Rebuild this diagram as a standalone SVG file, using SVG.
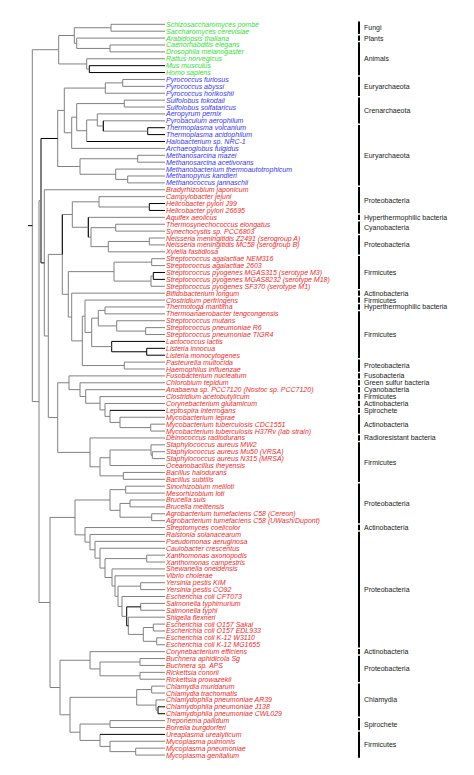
<svg xmlns="http://www.w3.org/2000/svg" width="474" height="775" viewBox="0 0 474 775">
<style>
.g{fill:none;stroke:#808080;stroke-width:1}
.k{fill:none;stroke:#000;stroke-width:1}
text{font-family:"Liberation Sans",Arial,sans-serif;font-size:7px}
.t{font-style:italic}
.eu{fill:#33e033}.ar{fill:#3535ee}.ba{fill:#f02a2a}
.c{fill:#1a1a1a}
.bar{stroke:#000;stroke-width:2}
</style>
<rect width="474" height="775" fill="#fff"/>
<g id="connectors">
<path class="g" d="M165 24.3H111V31.19H165"/>
<path class="g" d="M165 44.98H110V51.88H165"/>
<path class="g" d="M165 38.09H76.7V48.43H110"/>
<path class="g" d="M111 27.75H74.3V43.26H76.7"/>
<path class="k" d="M165 65.66H89.3V72.56H165"/>
<path class="g" d="M165 58.77H86.7V69.11H89.3"/>
<path class="g" d="M74.3 35.5H58.7V63.94H86.7"/>
<path class="g" d="M165 79.45H122.7V86.35H165"/>
<path class="g" d="M122.7 82.9H105.3V93.24H165"/>
<path class="g" d="M165 100.13H124.3V107.03H165"/>
<path class="k" d="M165 127.71H147.7V134.6H165"/>
<path class="g" d="M165 120.82H103.3V131.16H147.7"/>
<path class="k" d="M103.3 120.82V131.16"/>
<path class="g" d="M165 113.92H97.3V125.99H103.3"/>
<path class="g" d="M97.3 119.96H86.7V141.5"/>
<path class="k" d="M86.7 141.5H165"/>
<path class="g" d="M124.3 103.58H76.7V130.73H86.7"/>
<path class="g" d="M76.7 117.16H71.7V148.39H165"/>
<path class="g" d="M105.3 88.07H64.3V132.78H71.7"/>
<path class="g" d="M165 155.29H137.7V162.18H165"/>
<path class="g" d="M165 175.97H127.7V182.86H165"/>
<path class="g" d="M165 169.07H115.7V179.42H127.7"/>
<path class="g" d="M137.7 158.74H80V174.25H115.7"/>
<path class="g" d="M64.3 110.43H57.7V166.5H80"/>
<path class="k" d="M165 203.54H149.3V210.44H165"/>
<path class="g" d="M165 196.65H99V206.99H149.3"/>
<path class="g" d="M165 224.23H115.7V231.12H165"/>
<path class="g" d="M165 238.01H149.3V244.91H165"/>
<path class="g" d="M149.3 241.46H108.3V251.8H165"/>
<path class="g" d="M115.7 227.68H91V246.63H108.3"/>
<path class="g" d="M165 217.33H88.3V237.16H91"/>
<path class="k" d="M88.3 217.33V237.16"/>
<path class="g" d="M99 201.82H72.3V227.25H88.3"/>
<path class="g" d="M165 258.7H151.7V265.59H165"/>
<path class="k" d="M165 272.48H153.3V279.38H165"/>
<path class="g" d="M153.3 275.93H151V286.27H165"/>
<path class="g" d="M151.7 262.15H114V281.1H151"/>
<path class="g" d="M165 306.95H105V313.85H165"/>
<path class="g" d="M165 327.64H145.7V334.53H165"/>
<path class="g" d="M165 320.74H116.7V331.08H145.7"/>
<path class="g" d="M105 310.4H98.3V325.91H116.7"/>
<path class="k" d="M165 348.32H146.7V355.21H165"/>
<path class="k" d="M165 341.42H111.7V351.77H146.7"/>
<path class="g" d="M98.3 318.16H91.7V346.6H111.7"/>
<path class="g" d="M165 300.06H85V332.38H91.7"/>
<path class="g" d="M165 362.11H124.3V369H165"/>
<path class="g" d="M85 316.22H82.3V365.56H124.3"/>
<path class="g" d="M165 293.17H71.7V340.89H82.3"/>
<path class="g" d="M114 271.63H68.3V317.03H71.7"/>
<path class="g" d="M72.3 214.5H62.3V294.33H68.3"/>
<path class="k" d="M62.3 214.5V254.4"/>
<path class="g" d="M165 424.15H150.7V431.05H165"/>
<path class="g" d="M165 417.26H120V427.6H150.7"/>
<path class="g" d="M110 410.36V422.43H120"/>
<path class="k" d="M110 410.36H165"/>
<path class="g" d="M165 403.47H105V416.4H110"/>
<path class="g" d="M165 396.58H100V409.93H105"/>
<path class="g" d="M165 389.68H85.7V403.25H100"/>
<path class="g" d="M165 382.79H80V396.47H85.7"/>
<path class="g" d="M165 375.89H69V389.63H80"/>
<path class="g" d="M165 451.73H152.3V458.62H165"/>
<path class="g" d="M165 444.83H151V455.18H152.3"/>
<path class="g" d="M165 472.41H123.3V479.3H165"/>
<path class="g" d="M151 450H110V465.52H165"/>
<path class="g" d="M110 457.76H100V475.86H123.3"/>
<path class="g" d="M165 437.94H90V466.81H100"/>
<path class="g" d="M69 382.76H57.7V452.38H90"/>
<path class="g" d="M62.3 254.4H48.3V417.57H57.7"/>
<path class="g" d="M165 189.76H44.3V335.99H48.3"/>
<path class="k" d="M57.7 138.47H41V262.87H44.3"/>
<path class="g" d="M165 486.2H125.7V493.09H165"/>
<path class="g" d="M165 499.99H130V506.88H165"/>
<path class="g" d="M165 513.77H151.7V520.67H165"/>
<path class="g" d="M130 503.43H120V517.22H151.7"/>
<path class="g" d="M125.7 489.65H110V510.33H120"/>
<path class="g" d="M165 555.14H146.7V562.03H165"/>
<path class="g" d="M165 582.71H140.7V589.61H165"/>
<path class="g" d="M165 603.4H140.7V610.29H165"/>
<path class="g" d="M165 624.08H153.3V630.97H165"/>
<path class="g" d="M165 637.87H156.7V644.76H165"/>
<path class="g" d="M153.3 627.53H143.3V641.32H156.7"/>
<path class="g" d="M165 617.18H128.3V634.42H143.3"/>
<path class="k" d="M140.7 606.85H126.7V625.8H128.3"/>
<path class="g" d="M165 596.5H122V616.33H126.7"/>
<path class="g" d="M140.7 586.16H118V606.42H122"/>
<path class="g" d="M165 575.82H115V596.29H118"/>
<path class="g" d="M165 568.93H112V586.06H115"/>
<path class="g" d="M146.7 558.59H105V577.5H112"/>
<path class="g" d="M165 548.24H100V568.05H105"/>
<path class="g" d="M165 541.35H95V558.15H100"/>
<path class="g" d="M165 534.46H90V549.75H95"/>
<path class="g" d="M165 527.56H85V542.1H90"/>
<path class="g" d="M110 499.99H75V534.83H85"/>
<path class="g" d="M165 658.55H140V665.44H165"/>
<path class="g" d="M165 672.34H140V679.23H165"/>
<path class="g" d="M140 662H100V675.79H140"/>
<path class="g" d="M165 651.65H90V668.9H100"/>
<path class="g" d="M165 686.12H151.7V693.02H165"/>
<path class="k" d="M165 706.81H158V713.7H165"/>
<path class="g" d="M165 699.91H156V710.26H158"/>
<path class="g" d="M151.7 689.57H136.7V705.08H156"/>
<path class="g" d="M165 720.59H110V727.49H165"/>
<path class="g" d="M165 748.17H135.7V755.07H165"/>
<path class="g" d="M165 741.28H110V751.62H135.7"/>
<path class="g" d="M100 734.38V746.45H110"/>
<path class="k" d="M100 734.38H165"/>
<path class="g" d="M110 724.04H80V740.42H100"/>
<path class="g" d="M136.7 697.33H70V732.23H80"/>
<path class="g" d="M90 660.28H60V714.78H70"/>
<path class="g" d="M75 517.41H50V687.53H60"/>
<path class="g" d="M41 200.67H39V602.47H50"/>
<path class="g" d="M58.7 49.72H32.3V401.57H39"/>
<path class="k" d="M28 225.65H32.3"/>
</g>
<g id="leaves" class="t">
<g id="leaf-1"><text class="eu" x="166" y="26.8">Schizosaccharomyces pombe</text></g>
<g id="leaf-2"><text class="eu" x="166" y="33.69">Saccharomyces cerevisiae</text></g>
<g id="leaf-3"><text class="eu" x="166" y="40.59">Arabidopsis thaliana</text></g>
<g id="leaf-4"><text class="eu" x="166" y="47.48">Caenorhabditis elegans</text></g>
<g id="leaf-5"><text class="eu" x="166" y="54.38">Drosophila melanogaster</text></g>
<g id="leaf-6"><text class="eu" x="166" y="61.27">Rattus norvegicus</text></g>
<g id="leaf-7"><text class="eu" x="166" y="68.16">Mus musculus</text></g>
<g id="leaf-8"><text class="eu" x="166" y="75.06">Homo sapiens</text></g>
<g id="leaf-9"><text class="ar" x="166" y="81.95">Pyrococcus furiosus</text></g>
<g id="leaf-10"><text class="ar" x="166" y="88.85">Pyrococcus abyssi</text></g>
<g id="leaf-11"><text class="ar" x="166" y="95.74">Pyrococcus horikoshii</text></g>
<g id="leaf-12"><text class="ar" x="166" y="102.63">Sulfolobus tokodaii</text></g>
<g id="leaf-13"><text class="ar" x="166" y="109.53">Sulfolobus solfataricus</text></g>
<g id="leaf-14"><text class="ar" x="166" y="116.42">Aeropyrum pernix</text></g>
<g id="leaf-15"><text class="ar" x="166" y="123.32">Pyrobaculum aerophilum</text></g>
<g id="leaf-16"><text class="ar" x="166" y="130.21">Thermoplasma volcanium</text></g>
<g id="leaf-17"><text class="ar" x="166" y="137.1">Thermoplasma acidophilum</text></g>
<g id="leaf-18"><text class="ar" x="166" y="144">Halobacterium sp. NRC-1</text></g>
<g id="leaf-19"><text class="ar" x="166" y="150.89">Archaeoglobus fulgidus</text></g>
<g id="leaf-20"><text class="ar" x="166" y="157.79">Methanosarcina mazei</text></g>
<g id="leaf-21"><text class="ar" x="166" y="164.68">Methanosarcina acetivorans</text></g>
<g id="leaf-22"><text class="ar" x="166" y="171.57">Methanobacterium thermoautotrophicum</text></g>
<g id="leaf-23"><text class="ar" x="166" y="178.47">Methanopyrus kandleri</text></g>
<g id="leaf-24"><text class="ar" x="166" y="185.36">Methanococcus jannaschii</text></g>
<g id="leaf-25"><text class="ba" x="166" y="192.26">Bradyrhizobium japonicum</text></g>
<g id="leaf-26"><text class="ba" x="166" y="199.15">Campylobacter jejuni</text></g>
<g id="leaf-27"><text class="ba" x="166" y="206.04">Helicobacter pylori J99</text></g>
<g id="leaf-28"><text class="ba" x="166" y="212.94">Helicobacter pylori 26695</text></g>
<g id="leaf-29"><text class="ba" x="166" y="219.83">Aquifex aeolicus</text></g>
<g id="leaf-30"><text class="ba" x="166" y="226.73">Thermosynechococcus elongatus</text></g>
<g id="leaf-31"><text class="ba" x="166" y="233.62">Synechocystis sp. PCC6803</text></g>
<g id="leaf-32"><text class="ba" x="166" y="240.51">Neisseria meningitidis Z2491 (serogroup A)</text></g>
<g id="leaf-33"><text class="ba" x="166" y="247.41">Neisseria meningitidis MC58 (serogroup B)</text></g>
<g id="leaf-34"><text class="ba" x="166" y="254.3">Xylella fastidiosa</text></g>
<g id="leaf-35"><text class="ba" x="166" y="261.2">Streptococcus agalactiae NEM316</text></g>
<g id="leaf-36"><text class="ba" x="166" y="268.09">Streptococcus agalactiae 2603</text></g>
<g id="leaf-37"><text class="ba" x="166" y="274.98">Streptococcus pyogenes MGAS315 (serotype M3)</text></g>
<g id="leaf-38"><text class="ba" x="166" y="281.88">Streptococcus pyogenes MGAS8232 (serotype M18)</text></g>
<g id="leaf-39"><text class="ba" x="166" y="288.77">Streptococcus pyogenes SF370 (serotype M1)</text></g>
<g id="leaf-40"><text class="ba" x="166" y="295.67">Bifidobacterium longum</text></g>
<g id="leaf-41"><text class="ba" x="166" y="302.56">Clostridium perfringens</text></g>
<g id="leaf-42"><text class="ba" x="166" y="309.45">Thermotoga maritima</text></g>
<g id="leaf-43"><text class="ba" x="166" y="316.35">Thermoanaerobacter tengcongensis</text></g>
<g id="leaf-44"><text class="ba" x="166" y="323.24">Streptococcus mutans</text></g>
<g id="leaf-45"><text class="ba" x="166" y="330.14">Streptococcus pneumoniae R6</text></g>
<g id="leaf-46"><text class="ba" x="166" y="337.03">Streptococcus pneumoniae TIGR4</text></g>
<g id="leaf-47"><text class="ba" x="166" y="343.92">Lactococcus lactis</text></g>
<g id="leaf-48"><text class="ba" x="166" y="350.82">Listeria innocua</text></g>
<g id="leaf-49"><text class="ba" x="166" y="357.71">Listeria monocytogenes</text></g>
<g id="leaf-50"><text class="ba" x="166" y="364.61">Pasteurella multocida</text></g>
<g id="leaf-51"><text class="ba" x="166" y="371.5">Haemophilus influenzae</text></g>
<g id="leaf-52"><text class="ba" x="166" y="378.39">Fusobacterium nucleatum</text></g>
<g id="leaf-53"><text class="ba" x="166" y="385.29">Chlorobium tepidum</text></g>
<g id="leaf-54"><text class="ba" x="166" y="392.18">Anabaena sp. PCC7120 (Nostoc sp. PCC7120)</text></g>
<g id="leaf-55"><text class="ba" x="166" y="399.08">Clostridium acetobutylicum</text></g>
<g id="leaf-56"><text class="ba" x="166" y="405.97">Corynebacterium glutamicum</text></g>
<g id="leaf-57"><text class="ba" x="166" y="412.86">Leptospira interrogans</text></g>
<g id="leaf-58"><text class="ba" x="166" y="419.76">Mycobacterium leprae</text></g>
<g id="leaf-59"><text class="ba" x="166" y="426.65">Mycobacterium tuberculosis CDC1551</text></g>
<g id="leaf-60"><text class="ba" x="166" y="433.55">Mycobacterium tuberculosis H37Rv (lab strain)</text></g>
<g id="leaf-61"><text class="ba" x="166" y="440.44">Deinococcus radiodurans</text></g>
<g id="leaf-62"><text class="ba" x="166" y="447.33">Staphylococcus aureus MW2</text></g>
<g id="leaf-63"><text class="ba" x="166" y="454.23">Staphylococcus aureus Mu50 (VRSA)</text></g>
<g id="leaf-64"><text class="ba" x="166" y="461.12">Staphylococcus aureus N315 (MRSA)</text></g>
<g id="leaf-65"><text class="ba" x="166" y="468.02">Oceanobacillus iheyensis</text></g>
<g id="leaf-66"><text class="ba" x="166" y="474.91">Bacillus halodurans</text></g>
<g id="leaf-67"><text class="ba" x="166" y="481.8">Bacillus subtilis</text></g>
<g id="leaf-68"><text class="ba" x="166" y="488.7">Sinorhizobium meliloti</text></g>
<g id="leaf-69"><text class="ba" x="166" y="495.59">Mesorhizobium loti</text></g>
<g id="leaf-70"><text class="ba" x="166" y="502.49">Brucella suis</text></g>
<g id="leaf-71"><text class="ba" x="166" y="509.38">Brucella melitensis</text></g>
<g id="leaf-72"><text class="ba" x="166" y="516.27">Agrobacterium tumefaciens C58 (Cereon)</text></g>
<g id="leaf-73"><text class="ba" x="166" y="523.17">Agrobacterium tumefaciens C58 (UWash/Dupont)</text></g>
<g id="leaf-74"><text class="ba" x="166" y="530.06">Streptomyces coelicolor</text></g>
<g id="leaf-75"><text class="ba" x="166" y="536.96">Ralstonia solanacearum</text></g>
<g id="leaf-76"><text class="ba" x="166" y="543.85">Pseudomonas aeruginosa</text></g>
<g id="leaf-77"><text class="ba" x="166" y="550.74">Caulobacter crescentus</text></g>
<g id="leaf-78"><text class="ba" x="166" y="557.64">Xanthomonas axonopodis</text></g>
<g id="leaf-79"><text class="ba" x="166" y="564.53">Xanthomonas campestris</text></g>
<g id="leaf-80"><text class="ba" x="166" y="571.43">Shewanella oneidensis</text></g>
<g id="leaf-81"><text class="ba" x="166" y="578.32">Vibrio cholerae</text></g>
<g id="leaf-82"><text class="ba" x="166" y="585.21">Yersinia pestis KIM</text></g>
<g id="leaf-83"><text class="ba" x="166" y="592.11">Yersinia pestis CO92</text></g>
<g id="leaf-84"><text class="ba" x="166" y="599">Escherichia coli CFT073</text></g>
<g id="leaf-85"><text class="ba" x="166" y="605.9">Salmonella typhimurium</text></g>
<g id="leaf-86"><text class="ba" x="166" y="612.79">Salmonella typhi</text></g>
<g id="leaf-87"><text class="ba" x="166" y="619.68">Shigella flexneri</text></g>
<g id="leaf-88"><text class="ba" x="166" y="626.58">Escherichia coli O157 Sakai</text></g>
<g id="leaf-89"><text class="ba" x="166" y="633.47">Escherichia coli O157 EDL933</text></g>
<g id="leaf-90"><text class="ba" x="166" y="640.37">Escherichia coli K-12 W3110</text></g>
<g id="leaf-91"><text class="ba" x="166" y="647.26">Escherichia coli K-12 MG1655</text></g>
<g id="leaf-92"><text class="ba" x="166" y="654.15">Corynebacterium efficiens</text></g>
<g id="leaf-93"><text class="ba" x="166" y="661.05">Buchnera aphidicola Sg</text></g>
<g id="leaf-94"><text class="ba" x="166" y="667.94">Buchnera sp. APS</text></g>
<g id="leaf-95"><text class="ba" x="166" y="674.84">Rickettsia conorii</text></g>
<g id="leaf-96"><text class="ba" x="166" y="681.73">Rickettsia prowazekii</text></g>
<g id="leaf-97"><text class="ba" x="166" y="688.62">Chlamydia muridarum</text></g>
<g id="leaf-98"><text class="ba" x="166" y="695.52">Chlamydia trachomatis</text></g>
<g id="leaf-99"><text class="ba" x="166" y="702.41">Chlamydophila pneumoniae AR39</text></g>
<g id="leaf-100"><text class="ba" x="166" y="709.31">Chlamydophila pneumoniae J138</text></g>
<g id="leaf-101"><text class="ba" x="166" y="716.2">Chlamydophila pneumoniae CWL029</text></g>
<g id="leaf-102"><text class="ba" x="166" y="723.09">Treponema pallidum</text></g>
<g id="leaf-103"><text class="ba" x="166" y="729.99">Borrelia burgdorferi</text></g>
<g id="leaf-104"><text class="ba" x="166" y="736.88">Ureaplasma urealyticum</text></g>
<g id="leaf-105"><text class="ba" x="166" y="743.78">Mycoplasma pulmonis</text></g>
<g id="leaf-106"><text class="ba" x="166" y="750.67">Mycoplasma pneumoniae</text></g>
<g id="leaf-107"><text class="ba" x="166" y="757.57">Mycoplasma genitalium</text></g>
</g>
<g id="groups" class="c">
<g id="grp-1"><line class="bar" x1="359" y1="21.6" x2="359" y2="33.89"/><text x="364" y="30.25">Fungi</text></g>
<g id="grp-2"><line class="bar" x1="359" y1="35.39" x2="359" y2="40.79"/><text x="364" y="40.59">Plants</text></g>
<g id="grp-3"><line class="bar" x1="359" y1="42.28" x2="359" y2="75.26"/><text x="364" y="61.27">Animals</text></g>
<g id="grp-4"><line class="bar" x1="359" y1="76.75" x2="359" y2="95.94"/><text x="364" y="88.85">Euryarchaeota</text></g>
<g id="grp-5"><line class="bar" x1="359" y1="97.43" x2="359" y2="123.52"/><text x="364" y="112.98">Crenarchaeota</text></g>
<g id="grp-6"><line class="bar" x1="359" y1="125.01" x2="359" y2="185.56"/><text x="364" y="157.79">Euryarchaeota</text></g>
<g id="grp-7"><line class="bar" x1="359" y1="187.06" x2="359" y2="213.14"/><text x="364" y="202.6">Proteobacteria</text></g>
<g id="grp-8"><line class="bar" x1="359" y1="214.63" x2="359" y2="220.03"/><text x="364" y="219.83">Hyperthermophilic bacteria</text></g>
<g id="grp-9"><line class="bar" x1="359" y1="221.53" x2="359" y2="233.82"/><text x="364" y="230.18">Cyanobacteria</text></g>
<g id="grp-10"><line class="bar" x1="359" y1="235.31" x2="359" y2="254.5"/><text x="364" y="247.41">Proteobacteria</text></g>
<g id="grp-11"><line class="bar" x1="359" y1="256" x2="359" y2="288.97"/><text x="364" y="274.98">Firmicutes</text></g>
<g id="grp-12"><line class="bar" x1="359" y1="290.47" x2="359" y2="295.87"/><text x="364" y="295.67">Actinobacteria</text></g>
<g id="grp-13"><line class="bar" x1="359" y1="297.36" x2="359" y2="302.76"/><text x="364" y="302.56">Firmicutes</text></g>
<g id="grp-14"><line class="bar" x1="359" y1="304.25" x2="359" y2="309.65"/><text x="364" y="309.45">Hyperthermophilic bacteria</text></g>
<g id="grp-15"><line class="bar" x1="359" y1="311.15" x2="359" y2="357.91"/><text x="364" y="337.03">Firmicutes</text></g>
<g id="grp-16"><line class="bar" x1="359" y1="359.41" x2="359" y2="371.7"/><text x="364" y="368.06">Proteobacteria</text></g>
<g id="grp-17"><line class="bar" x1="359" y1="373.19" x2="359" y2="378.59"/><text x="364" y="378.39">Fusobacteria</text></g>
<g id="grp-18"><line class="bar" x1="359" y1="380.09" x2="359" y2="385.49"/><text x="364" y="385.29">Green sulfur bacteria</text></g>
<g id="grp-19"><line class="bar" x1="359" y1="386.98" x2="359" y2="392.38"/><text x="364" y="392.18">Cyanobacteria</text></g>
<g id="grp-20"><line class="bar" x1="359" y1="393.88" x2="359" y2="399.28"/><text x="364" y="399.08">Firmicutes</text></g>
<g id="grp-21"><line class="bar" x1="359" y1="400.77" x2="359" y2="406.17"/><text x="364" y="405.97">Actinobacteria</text></g>
<g id="grp-22"><line class="bar" x1="359" y1="407.66" x2="359" y2="413.06"/><text x="364" y="412.86">Spirochete</text></g>
<g id="grp-23"><line class="bar" x1="359" y1="414.56" x2="359" y2="433.75"/><text x="364" y="426.65">Actinobacteria</text></g>
<g id="grp-24"><line class="bar" x1="359" y1="435.24" x2="359" y2="440.64"/><text x="364" y="440.44">Radioresistant bacteria</text></g>
<g id="grp-25"><line class="bar" x1="359" y1="442.13" x2="359" y2="482"/><text x="364" y="464.57">Firmicutes</text></g>
<g id="grp-26"><line class="bar" x1="359" y1="483.5" x2="359" y2="523.37"/><text x="364" y="505.94">Proteobacteria</text></g>
<g id="grp-27"><line class="bar" x1="359" y1="524.86" x2="359" y2="530.26"/><text x="364" y="530.06">Actinobacteria</text></g>
<g id="grp-28"><line class="bar" x1="359" y1="531.76" x2="359" y2="647.46"/><text x="364" y="592.11">Proteobacteria</text></g>
<g id="grp-29"><line class="bar" x1="359" y1="648.95" x2="359" y2="654.35"/><text x="364" y="654.15">Actinobacteria</text></g>
<g id="grp-30"><line class="bar" x1="359" y1="655.85" x2="359" y2="681.93"/><text x="364" y="671.39">Proteobacteria</text></g>
<g id="grp-31"><line class="bar" x1="359" y1="683.42" x2="359" y2="716.4"/><text x="364" y="702.41">Chlamydia</text></g>
<g id="grp-32"><line class="bar" x1="359" y1="717.89" x2="359" y2="730.19"/><text x="364" y="726.54">Spirochete</text></g>
<g id="grp-33"><line class="bar" x1="359" y1="731.68" x2="359" y2="757.77"/><text x="364" y="747.23">Firmicutes</text></g>
</g>
</svg>
